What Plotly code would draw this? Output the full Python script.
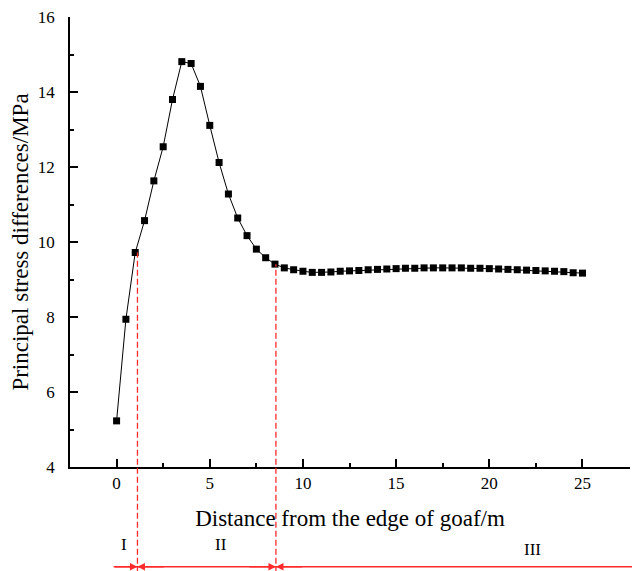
import plotly.graph_objects as go

# Data
x_dist = [i * 0.5 for i in range(51)]
stress = [5.23, 7.94, 9.72, 10.57, 11.63, 12.54, 13.80, 14.81, 14.76, 14.15,
          13.11, 12.12, 11.28, 10.64, 10.17, 9.81, 9.58, 9.41, 9.31, 9.26,
          9.22, 9.19, 9.19, 9.20, 9.22, 9.23, 9.24, 9.26, 9.27, 9.28,
          9.29, 9.30, 9.30, 9.31, 9.31, 9.31, 9.31, 9.31, 9.30, 9.30,
          9.29, 9.28, 9.27, 9.26, 9.25, 9.24, 9.23, 9.22, 9.21, 9.18, 9.17]

zone_bounds = [1.12, 8.55]          # x positions of red dashed boundaries
zone_bound_vals = [9.72, 9.41]      # stress value where each boundary starts
zone_labels = ["I", "II", "III"]
zone_label_x = [0.38, 5.58, 22.33]

x_range = [-2.5, 27.55]
y_range = [4, 16]

FONT = "Liberation Serif"
RED = "#ff2a2a"

fig = go.Figure()
fig.add_trace(go.Scatter(
    x=x_dist, y=stress, mode="lines+markers",
    line=dict(color="black", width=1),
    marker=dict(symbol="square", size=7, color="black"),
    showlegend=False,
))

def to_paper_y(v):
    return (v - y_range[0]) / (y_range[1] - y_range[0])

line_y = -0.2215
for xb, vb in zip(zone_bounds, zone_bound_vals):
    fig.add_shape(type="line", xref="x", yref="paper",
                  x0=xb, x1=xb, y0=-0.235, y1=to_paper_y(vb),
                  line=dict(color=RED, width=1.3, dash="6px,3px"))

# continuous zone line
fig.add_shape(type="line", xref="paper", yref="paper",
              x0=(-0.16 - x_range[0]) / (x_range[1] - x_range[0]), x1=1.05,
              y0=line_y, y1=line_y, line=dict(color=RED, width=1.5))

# arrowheads along the zone line
arrow_specs = [
    (zone_bounds[0], -0.16),
    (zone_bounds[0], zone_bounds[0] + 1.5),
    (zone_bounds[1], zone_bounds[1] - 1.5),
    (zone_bounds[1], zone_bounds[1] + 1.5),
]
for tip, tail in arrow_specs:
    fig.add_annotation(x=tip, y=line_y, xref="x", yref="paper",
                       ax=tail, ay=0, axref="x", ayref="pixel",
                       text="", showarrow=True, arrowhead=2, arrowsize=1,
                       arrowwidth=1.5, arrowcolor=RED, standoff=0, startstandoff=0)

label_y = [-0.173, -0.173, -0.184]
for lab, lx, ly in zip(zone_labels, zone_label_x, label_y):
    fig.add_annotation(x=lx, y=ly, xref="x", yref="paper", text=lab,
                       yanchor="middle", xanchor="center",
                       showarrow=False, font=dict(family=FONT, size=17, color="black"))

axis_common = dict(
    showline=True, linecolor="black", linewidth=1.5, mirror=False,
    showgrid=False, zeroline=False, ticks="inside", ticklen=8, tickwidth=1.5,
    tickcolor="black", tickfont=dict(family=FONT, size=17, color="black"),
)

fig.update_xaxes(range=x_range, tick0=0, dtick=5,
                 minor=dict(tick0=0, dtick=2.5, ticks="inside", ticklen=4,
                            tickwidth=1.5, tickcolor="black", showgrid=False),
                 title=dict(text="Distance from the edge of goaf/m",
                            font=dict(family=FONT, size=23, color="black"), standoff=18),
                 automargin=False,
                 **axis_common)
fig.update_yaxes(range=y_range, tick0=4, dtick=2,
                 minor=dict(tick0=4, dtick=1, ticks="inside", ticklen=4,
                            tickwidth=1.5, tickcolor="black", showgrid=False),
                 title=dict(text="Principal stress differences/MPa",
                            font=dict(family=FONT, size=23, color="black"), standoff=3),
                 automargin=False, ticklabelstandoff=10,
                 **axis_common)

fig.update_layout(
    template="none",
    width=632, height=571,
    margin=dict(l=70, r=2, t=17, b=104),
    paper_bgcolor="white", plot_bgcolor="white",
    font=dict(family=FONT, color="black"),
    showlegend=False,
)

fig.write_html("out.html")
